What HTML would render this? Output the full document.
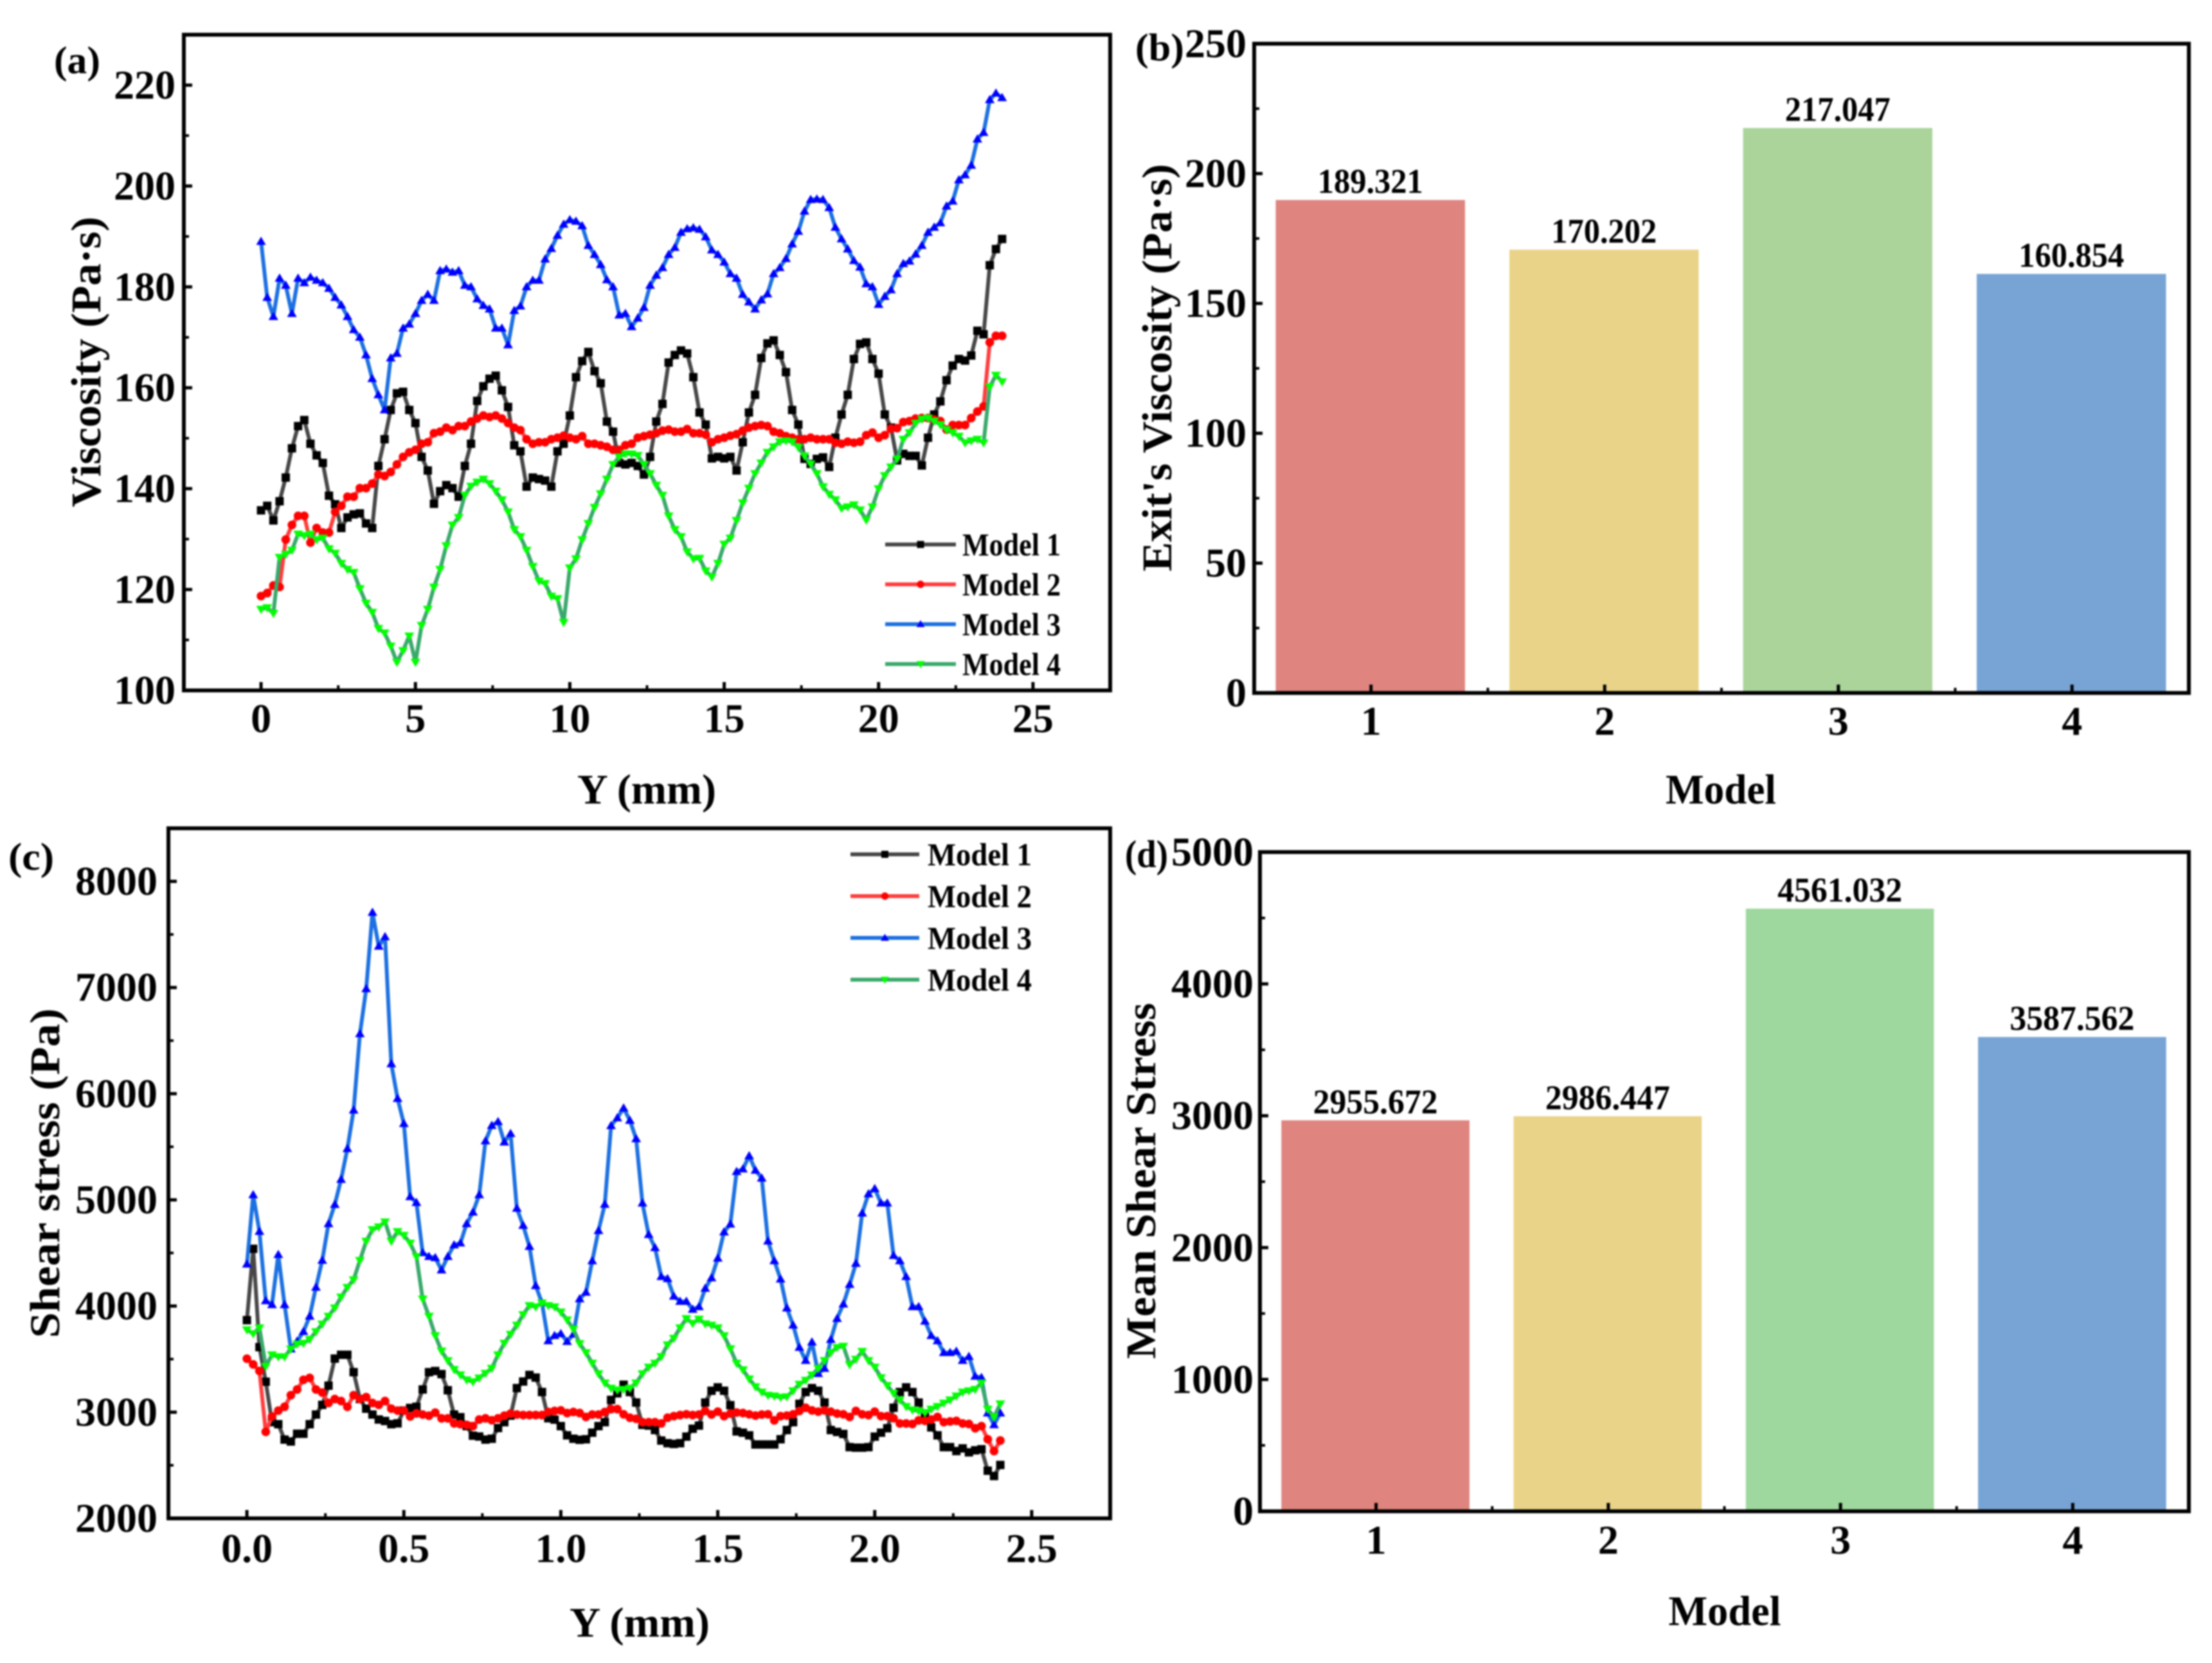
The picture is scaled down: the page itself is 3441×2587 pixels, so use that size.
<!DOCTYPE html>
<html lang="en">
<head>
<meta charset="utf-8">
<title>Viscosity and shear stress by model</title>
<style>
html,body{margin:0;padding:0;background:#fff;width:3441px;height:2587px;overflow:hidden}
svg{display:block}
text{font-family:"Liberation Serif",serif;font-weight:bold;fill:#000}
</style>
</head>
<body>
<svg id="figure" xmlns="http://www.w3.org/2000/svg" width="3441" height="2587" viewBox="0 0 3441 2587">
<defs>
<filter id="soft" filterUnits="userSpaceOnUse" x="0" y="0" width="3441" height="2587" color-interpolation-filters="sRGB"><feGaussianBlur stdDeviation="1.3"/></filter>
</defs>
<rect width="3441" height="2587" fill="#fff"/>
<g id="root" filter="url(#soft)">
<g id="panel-a"></g>
<g id="panel-b"></g>
<g id="panel-c"></g>
<g id="panel-d"></g>

<text x="84" y="114" font-size="60" textLength="72" lengthAdjust="spacingAndGlyphs">(a)</text>
<text x="1766" y="94" font-size="60" textLength="76" lengthAdjust="spacingAndGlyphs">(b)</text>
<text x="13" y="1353" font-size="60" textLength="71" lengthAdjust="spacingAndGlyphs">(c)</text>
<text x="1750" y="1349" font-size="60" textLength="67" lengthAdjust="spacingAndGlyphs">(d)</text>

<text transform="translate(156 563) rotate(-90)" text-anchor="middle" font-size="66" textLength="452" lengthAdjust="spacingAndGlyphs">Viscosity (Pa·s)</text>
<text x="1006" y="1250" text-anchor="middle" font-size="66" textLength="216" lengthAdjust="spacingAndGlyphs">Y (mm)</text>
<text transform="translate(1822 572) rotate(-90)" text-anchor="middle" font-size="66" textLength="634" lengthAdjust="spacingAndGlyphs">Exit's Viscosity (Pa·s)</text>
<text x="2677" y="1250" text-anchor="middle" font-size="66" textLength="172" lengthAdjust="spacingAndGlyphs">Model</text>
<text transform="translate(92 1825) rotate(-90)" text-anchor="middle" font-size="66" textLength="513" lengthAdjust="spacingAndGlyphs">Shear stress (Pa)</text>
<text x="995" y="2546" text-anchor="middle" font-size="66" textLength="218" lengthAdjust="spacingAndGlyphs">Y (mm)</text>
<text transform="translate(1797 1837) rotate(-90)" text-anchor="middle" font-size="66" textLength="554" lengthAdjust="spacingAndGlyphs">Mean Shear Stress</text>
<text x="2683" y="2528" text-anchor="middle" font-size="66" textLength="175" lengthAdjust="spacingAndGlyphs">Model</text>
</g>
</svg>
<script>
const seriesNames = ['Model 1','Model 2','Model 3','Model 4'];

const viscosityStart = 0;
const viscosityStep = 0.2;
const viscosityModel1 = [
135.7,136.6,133.7,137.5,142.2,
148,152.4,153.6,148.9,146.6,
145.1,138.6,136.9,132.2,134.3,
134.9,135.1,133.1,132.2,144.5,
149.8,155.6,158.9,159.2,155.6,
153,146.3,143.6,137,139.5,
140.7,140.1,138.4,144.5,148.9,
157.4,160.3,161.8,162.4,159.5,
156.2,148.6,147.4,140.4,142.2,
141.9,141.6,140.4,147.4,148.9,
154.5,162.1,165.3,167.1,163.3,
160.9,153.3,151.3,145.1,144.8,
145.1,144.5,142.8,146.3,153.3,
156.8,165,166.5,167.4,166.8,
162.1,155.1,152.7,146,146.3,
146,146.3,143.6,149.2,155.1,
158.6,165.9,168.8,169.4,166.5,
163.1,155.6,152.7,145.9,144.9,
145.9,146.2,144.3,150.1,154.7,
158.6,165.7,168.7,169,165.7,
162.8,154.7,152.1,145.6,146.9,
146.5,146.5,144.6,150.1,154.7,
157.3,161.5,164.4,165.7,165.4,
166.4,171.3,170.6,184.3,187.5,
189.5];
const viscosityModel2 = [
118.7,119.3,120.8,120.5,129.9,
132.8,134.6,134.6,129.3,132.2,
131.3,131.3,135.4,136.6,138.4,
138.4,140.1,140.1,141,142.8,
142.5,143.3,144.8,146.3,147.2,
147.7,148.9,149.2,151,151.3,
152.1,151.6,152.4,152.4,153.3,
153.9,154.5,154.2,154.5,153.9,
153,152.1,151.6,149.8,148.9,
149.2,149.2,149.8,150.1,150.5,
150.1,149.8,150.4,148.9,148.9,
148.6,148.3,147.7,147.7,148.6,
148.9,150.1,150.4,150.7,151,
151.5,151.7,151.3,151.3,151.8,
151,151,150.7,149.2,149.8,
150.1,150.5,150.8,151.5,152.1,
152.4,152.6,152.4,151.3,151,
150.4,150.1,149.8,149.8,150.1,
149.8,149.8,149.8,149.1,148.9,
149.3,149.1,149.3,150.6,151.1,
150.1,150.6,151.9,152,153.2,
153.4,153.9,154,154,153.7,
153.4,151.7,152.6,152.6,152.6,
154,155.3,156.3,169,170.3,
170.3];
const viscosityModel3 = [
189,177.9,174.1,181.7,180.3,
174.7,181.7,180.8,181.9,181.3,
180.8,179.7,177.9,176.4,174.1,
171.5,170,166.5,161.8,158.6,
155.6,165.9,166.8,171.8,172.6,
174.7,177.3,178.5,177.3,183.2,
183.5,182.9,183.2,180.3,180,
177.6,176.3,175.6,171.8,171.8,
168.5,175.3,176.2,180,181.3,
181.3,185.5,187.6,190.2,192.4,
193.3,193,192.1,188.2,186.4,
184.4,181.4,180,174.4,174.7,
172.1,173.8,175.9,180.3,182.3,
183.8,186.4,187.8,190.8,191.5,
191.7,191.4,189.9,187.3,186.4,
184.9,182.6,181.7,178.5,177,
175.6,177.4,178.6,182.6,183.8,
185.6,188.5,191,195,197.3,
197.4,197.3,195.7,191.8,189.5,
187.5,185.2,183.9,180.6,180,
176.5,178.1,179.4,182.6,184.6,
185.1,186.5,188.2,190.8,191.8,
192.7,196,197,201.2,202.2,
204.1,209.3,210.6,217.1,218.4,
217.5];
const viscosityModel4 = [
116.1,116.4,115.3,126.4,127,
127.8,131,130.7,131,129.9,
130.2,128.1,127.2,125.2,124,
123.4,120.2,117.3,115.5,112.3,
111.4,108.8,105.6,107.9,110.8,
105.6,112.9,116.1,120.5,124,
128.7,132.8,134.3,138.7,140.5,
141.3,141.9,141,139.5,137.8,
135.4,131.9,130.5,127.8,124.6,
121.7,121.2,118.7,118.2,113.5,
124.3,126.1,129.9,133.1,136.3,
139,141.9,144.8,146.3,146.9,
146.9,146.6,144.8,143,140.7,
138.7,134.6,131.9,130.5,127.5,
126.1,126.2,123.7,122.5,125.2,
129,130.2,133.7,137.2,140.1,
143,145.1,147.2,148.3,149.3,
149.5,149.3,148.2,146.5,144.9,
143,140.4,138.9,137.8,136.1,
136.4,136.8,135.8,133.8,136.4,
140,142.6,144.3,145.9,149.8,
151.1,153,153.8,154,153.4,
152.7,151.7,151.1,150.4,149.1,
149.5,149.8,149.1,160.2,162.5,
161.2];
const viscosityXTicks = ['0','5','10','15','20','25'];
const viscosityXMinor = [2.5,7.5,12.5,17.5,22.5];
const viscosityYTicks = ['100','120','140','160','180','200','220'];
const viscosityYMinor = [110,130,150,170,190,210,230];

/* (b) Exit viscosity bars */
const exitCategories = ['1','2','3','4'];
const exitViscosity = [189.321,170.202,217.047,160.854];
const exitLabels = ['189.321','170.202','217.047','160.854'];
const exitYTicks = ['0','50','100','150','200','250'];
const exitYMinor = [25,75,125,175,225];
const exitXMinor = [1.5,2.5,3.5];

const shearStart = 0;
const shearStep = 0.02;
const shearModel1 = [
3867,4539,3613,3287,2906,2887,2742,2724,2797,2797,
2887,2978,3069,3250,3505,3541,3541,3377,3124,3033,
2978,2931,2917,2887,2895,3015,3040,3051,3214,3377,
3388,3359,3207,2978,2953,2869,2779,2771,2742,2750,
2851,2906,2968,3227,3289,3351,3326,3190,2943,2930,
2869,2782,2750,2740,2745,2807,2869,2906,3116,3178,
3259,3190,3091,2881,2874,2832,2733,2708,2701,2708,
2770,2844,2874,3091,3202,3234,3202,3066,2819,2807,
2782,2696,2696,2696,2696,2745,2832,2906,3079,3190,
3227,3202,3091,2832,2814,2795,2671,2666,2666,2671,
2770,2807,2849,3042,3190,3234,3190,3091,2955,2857,
2782,2671,2671,2634,2659,2622,2641,2651,2449,2399,
2503];
const shearModel2 = [
3504,3450,3388,2815,2960,3015,3051,3160,3214,3305,
3323,3214,3185,3087,3124,3105,3051,3160,3124,3142,
3087,3069,3105,3033,3015,3015,2960,2989,2978,2967,
2996,2942,2942,2895,2887,2880,2869,2931,2942,2924,
2942,2967,2987,2978,2973,2973,2973,2973,3002,3012,
3017,2992,3002,2992,2955,2978,2978,3002,3029,3029,
2980,2948,2938,2906,2906,2906,2894,2948,2963,2973,
2980,2973,2978,3012,2978,3005,2963,2987,2997,2992,
2980,2968,2978,2980,2923,2963,2968,2980,3012,3042,
3017,3005,3017,3005,2987,2980,2955,3012,2980,2973,
3005,2963,2963,2943,2894,2894,2889,2923,2918,2931,
2955,2906,2913,2918,2894,2889,2849,2869,2745,2634,
2733];
const shearModel3 = [
4394,5047,4702,4049,4012,4484,4012,3595,3668,3759,
3904,4176,4430,4775,4956,5192,5482,5845,6564,6988,
7707,7388,7478,6281,5954,5718,5029,4974,4502,4466,
4455,4339,4466,4575,4593,4775,4884,5047,5555,5700,
5736,5544,5624,4920,4759,4561,4191,4030,3672,3721,
3739,3665,3734,4067,4129,4425,4710,4957,5698,5772,
5864,5748,5575,4969,4673,4549,4277,4257,4092,4043,
4043,3968,3993,4166,4265,4450,4697,4771,5266,5290,
5414,5278,5204,4611,4426,4253,3981,3820,3610,3487,
3660,3363,3412,3684,3882,4018,4203,4401,4875,5056,
5105,4969,4969,4475,4426,4277,3993,3993,3857,3721,
3672,3561,3561,3573,3487,3524,3338,3326,2992,2881,
2992];
const shearModel4 = [
3777,3740,3795,3432,3541,3523,3523,3595,3642,3650,
3686,3759,3831,3904,3983,4085,4176,4248,4430,4611,
4720,4746,4793,4611,4702,4666,4593,4466,4067,3904,
3722,3577,3486,3403,3352,3305,3287,3323,3367,3414,
3541,3650,3734,3820,3919,4005,3993,4030,4005,3993,
3944,3870,3783,3647,3561,3462,3363,3276,3227,3210,
3215,3227,3276,3363,3425,3462,3524,3635,3697,3795,
3882,3837,3877,3833,3820,3795,3721,3598,3462,3400,
3314,3240,3190,3160,3153,3141,3146,3202,3264,3301,
3351,3413,3487,3561,3610,3622,3449,3499,3573,3487,
3425,3326,3252,3178,3116,3054,3022,3012,2997,3029,
3054,3086,3116,3153,3190,3202,3215,3276,3029,2955,
3079];
const shearXTicks = ['0.0','0.5','1.0','1.5','2.0','2.5'];
const shearXMinor = [0.25,0.75,1.25,1.75,2.25];
const shearYTicks = ['2000','3000','4000','5000','6000','7000','8000'];
const shearYMinor = [2500,3500,4500,5500,6500,7500,8500];

/* (d) Mean shear stress bars */
const meanCategories = ['1','2','3','4'];
const meanShear = [2955.672,2986.447,4561.032,3587.562];
const meanLabels = ['2955.672','2986.447','4561.032','3587.562'];
const meanYTicks = ['0','1000','2000','3000','4000','5000'];
const meanYMinor = [500,1500,2500,3500,4500];
const meanXMinor = [1.5,2.5,3.5];

/* drawing */
const NS = 'http://www.w3.org/2000/svg';
const lineColors = ['#474747','#ff3d3d','#1c70e2','#39a96b'];
const markColors = ['#000000','#ff0000','#0000ff','#00ff00'];
const barColorsB = ['#df847f','#e9d388','#aad49a','#77a4d5'];
const barColorsD = ['#df847f','#e9d388','#9fd89e','#77a4d5'];

function make(parent, tag, attrs, txt) {
  const el = document.createElementNS(NS, tag);
  for (const k in attrs) el.setAttribute(k, attrs[k]);
  if (txt !== undefined) el.textContent = txt;
  parent.appendChild(el);
  return el;
}
function scale(d0, d1, r0, r1) {
  return v => r0 + (v - d0) * (r1 - r0) / (d1 - d0);
}
function drawAxes(g, box, sx, sy, xTicks, xMinor, yTicks, yMinor, xLabelBase, yLabelRight, fs) {
  for (const t of yTicks) {
    const y = sy(+t);
    const tick = make(g, 'line', {x1: box.left, x2: box.left + 13, y1: y, y2: y, stroke: '#000', 'stroke-width': 5});
    
    
    const lab = make(g, 'text', {x: yLabelRight, y: y + 21, 'text-anchor': 'end', 'font-size': fs}, t);
    
    
  }
  for (const t of yMinor) {
    const y = sy(t);
    const tick = make(g, 'line', {x1: box.left, x2: box.left + 8, y1: y, y2: y, stroke: '#000', 'stroke-width': 4});
    
    
  }
  for (const t of xTicks) {
    const x = sx(+t);
    const tick = make(g, 'line', {x1: x, x2: x, y1: box.bottom, y2: box.bottom - 13, stroke: '#000', 'stroke-width': 5});
    
    
    const lab = make(g, 'text', {x: x, y: xLabelBase, 'text-anchor': 'middle', 'font-size': fs}, t);
    
    
  }
  for (const t of xMinor) {
    const x = sx(t);
    const tick = make(g, 'line', {x1: x, x2: x, y1: box.bottom, y2: box.bottom - 8, stroke: '#000', 'stroke-width': 4});
    
    
  }
}
function drawFrame(g, box) {
  const frame = make(g, 'rect', {x: box.left, y: box.top, width: box.right - box.left, height: box.bottom - box.top, fill: 'none', stroke: '#000', 'stroke-width': 6});
  
  
}
function marker(g, kind, x, y, size, color) {
  let el;
  if (kind === 0) {
    el = make(g, 'rect', {x: x - size / 2, y: y - size / 2, width: size, height: size, fill: color});
  } else if (kind === 1) {
    el = make(g, 'circle', {cx: x, cy: y, r: size * 0.52, fill: color});
  } else if (kind === 2) {
    const s = size * 0.58;
    el = make(g, 'polygon', {points: `${x},${y - s} ${x + s},${y + s * 0.7} ${x - s},${y + s * 0.7}`, fill: color});
  } else {
    const s = size * 0.58;
    el = make(g, 'polygon', {points: `${x},${y + s} ${x + s},${y - s * 0.7} ${x - s},${y - s * 0.7}`, fill: color});
  }
  
  
  return el;
}
function drawLines(g, seriesList, start, step, sx, sy) {
  seriesList.forEach((vals, k) => {
    const sg = make(g, 'g', {});
    
    
    const pts = vals.map((v, i) => sx(start + i * step).toFixed(1) + ',' + sy(v).toFixed(1)).join(' ');
    const line = make(sg, 'polyline', {points: pts, fill: 'none', stroke: lineColors[k], 'stroke-width': 6, 'stroke-linejoin': 'round'});
    
    
    vals.forEach((v, i) => {
      marker(sg, k, sx(start + i * step), sy(v), 13, markColors[k]);
    });
  });
}
function drawLegend(g, x0, x1, textX, textLen, ys) {
  seriesNames.forEach((name, k) => {
    const lg = make(g, 'g', {});
    
    
    const l = make(lg, 'line', {x1: x0, x2: x1, y1: ys[k], y2: ys[k], stroke: lineColors[k], 'stroke-width': 6});
    
    
    marker(lg, k, (x0 + x1) / 2, ys[k], 11, markColors[k]);
    const t = make(lg, 'text', {x: textX, y: ys[k] + 17, 'font-size': 50, textLength: textLen, lengthAdjust: 'spacingAndGlyphs'}, name);
    
    
  });
}
function drawBars(g, values, labels, colors, sx, sy, widthUnits, labelFs, labelLen, box) {
  values.forEach((v, i) => {
    const cx = sx(i + 1) - 1;
    const w = sx(1 + widthUnits) - sx(1);
    const top = sy(v) - 2;
    const bar = make(g, 'rect', {x: cx - w / 2, y: top, width: w, height: box.bottom - top, fill: colors[i]});
    
    
    const lab = make(g, 'text', {x: cx, y: top - 11, 'text-anchor': 'middle', 'font-size': labelFs, textLength: labelLen, lengthAdjust: 'spacingAndGlyphs'}, labels[i]);
    
    
  });
}

/* panel a */
(function () {
  const g = document.getElementById('panel-a');
  const box = {left: 286, right: 1727, top: 54, bottom: 1074};
  const sx = scale(-2.5, 27.5, box.left, box.right);
  const sy = scale(100, 230, box.bottom, box.top);
  drawLines(g, [viscosityModel1, viscosityModel2, viscosityModel3, viscosityModel4], viscosityStart, viscosityStep, sx, sy);
  drawAxes(g, box, sx, sy, viscosityXTicks, viscosityXMinor, viscosityYTicks, viscosityYMinor, 1139, 273, 64);
  drawFrame(g, box);
  drawLegend(g, 1377, 1487, 1497, 153, [847, 909, 971, 1033]);
})();

/* panel b */
(function () {
  const g = document.getElementById('panel-b');
  const box = {left: 1951, right: 3405, top: 68, bottom: 1078};
  const sx = scale(0.5, 4.5, box.left, box.right);
  const sy = scale(0, 250, box.bottom, box.top);
  drawBars(g, exitViscosity, exitLabels, barColorsB, sx, sy, 0.81, 54, 164, box);
  drawAxes(g, box, sx, sy, exitCategories, exitXMinor, exitYTicks, exitYMinor, 1143, 1939, 64);
  drawFrame(g, box);
})();

/* panel c */
(function () {
  const g = document.getElementById('panel-c');
  const box = {left: 262, right: 1727, top: 1288.5, bottom: 2362};
  const sx = scale(-0.25, 2.75, box.left, box.right);
  const sy = scale(2000, 8500, box.bottom, box.top);
  drawLines(g, [shearModel1, shearModel2, shearModel3, shearModel4], shearStart, shearStep, sx, sy);
  drawAxes(g, box, sx, sy, shearXTicks, shearXMinor, shearYTicks, shearYMinor, 2430, 245, 64);
  drawFrame(g, box);
  drawLegend(g, 1323, 1430, 1443, 162, [1329, 1394, 1459, 1524]);
})();

/* panel d */
(function () {
  const g = document.getElementById('panel-d');
  const box = {left: 1960, right: 3405, top: 1325.5, bottom: 2351};
  const sx = scale(0.5, 4.5, box.left, box.right);
  const sy = scale(0, 5000, box.bottom, box.top);
  drawBars(g, meanShear, meanLabels, barColorsD, sx, sy, 0.81, 54, 194, box);
  drawAxes(g, box, sx, sy, meanCategories, meanXMinor, meanYTicks, meanYMinor, 2417, 1950, 64);
  drawFrame(g, box);
})();
</script>
</body>
</html>
